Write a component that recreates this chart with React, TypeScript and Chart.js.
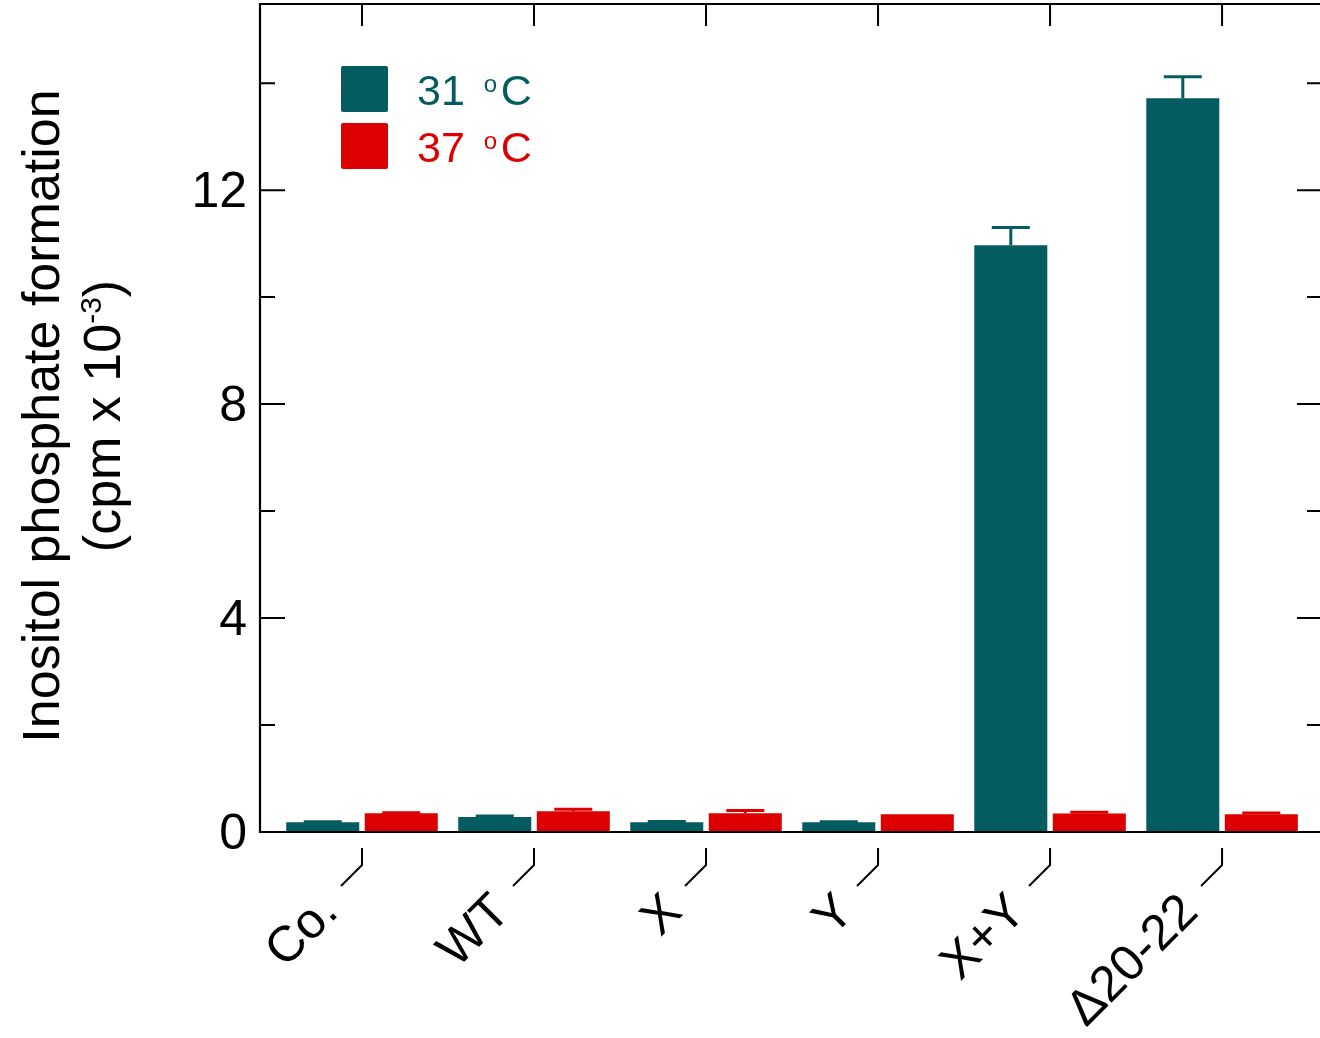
import React, { useEffect, useRef } from "react";
import { Chart, registerables } from "chart.js";

Chart.register(...registerables);

// ---- data ----
const categories = ["Co.", "WT", "X", "Y", "X+Y", "\u039420-22"];
const values31 = [0.18, 0.28, 0.18, 0.18, 10.97, 13.72];
const errors31 = [0.01, 0.02, 0.015, 0.01, 0.33, 0.4];
const values37 = [0.35, 0.39, 0.35, 0.33, 0.345, 0.33];
const errors37 = [0.01, 0.035, 0.05, 0.0, 0.025, 0.025];
const seriesNames = ["31", "37"];
const majorTicks = [0, 4, 8, 12];
const minorTicks = [2, 6, 10, 14];
const yMin = 0;
const yMax = 15.48;

const TEAL = "#035c60";
const RED = "#dd0000";
const FONT = '"Liberation Sans", Arial, Helvetica, sans-serif';

const CANVAS_W = 1340;
const CANVAS_H = 1038;

const framePlugin = {
  id: "framePlugin",
  afterDatasetsDraw(chart: any) {
    const ctx = chart.ctx as CanvasRenderingContext2D;
    const { left, right, top, bottom } = chart.chartArea;
    const xs = chart.scales.x;
    const ys = chart.scales.y;
    const errs = [errors31, errors37];
    const vals = [values31, values37];
    const cols = [TEAL, RED];

    // error bars (upper only)
    ctx.save();
    chart.data.datasets.forEach((_: any, di: number) => {
      const meta = chart.getDatasetMeta(di);
      meta.data.forEach((bar: any, i: number) => {
        const e = errs[di][i];
        if (!e) return;
        const yTop = ys.getPixelForValue(vals[di][i]);
        const yErr = ys.getPixelForValue(vals[di][i] + e);
        ctx.strokeStyle = cols[di];
        ctx.lineWidth = 3;
        ctx.beginPath();
        ctx.moveTo(bar.x, yTop);
        ctx.lineTo(bar.x, yErr);
        ctx.moveTo(bar.x - 19, yErr);
        ctx.lineTo(bar.x + 19, yErr);
        ctx.stroke();
      });
    });
    ctx.restore();

    // frame
    ctx.save();
    ctx.strokeStyle = "#000";
    ctx.lineWidth = 2.2;
    ctx.beginPath();
    ctx.rect(left, top, right - left, bottom - top);
    ctx.stroke();

    // y ticks inward on both sides
    ctx.lineWidth = 2;
    ctx.beginPath();
    majorTicks.forEach((v) => {
      const y = ys.getPixelForValue(v);
      ctx.moveTo(left, y);
      ctx.lineTo(left + 25, y);
      ctx.moveTo(right, y);
      ctx.lineTo(right - 25, y);
    });
    minorTicks.forEach((v) => {
      const y = ys.getPixelForValue(v);
      ctx.moveTo(left, y);
      ctx.lineTo(left + 15, y);
      ctx.moveTo(right, y);
      ctx.lineTo(right - 15, y);
    });
    // top ticks and bottom leader lines at categories
    categories.forEach((_, i) => {
      const x = xs.getPixelForValue(i);
      ctx.moveTo(x, top);
      ctx.lineTo(x, top + 22);
      ctx.moveTo(x, bottom + 16);
      ctx.lineTo(x, bottom + 33);
      ctx.lineTo(x - 21, bottom + 54);
    });
    ctx.stroke();

    // y tick labels
    ctx.fillStyle = "#000";
    ctx.font = `50px ${FONT}`;
    ctx.textAlign = "right";
    ctx.textBaseline = "alphabetic";
    majorTicks.forEach((v) => {
      const y = ys.getPixelForValue(v);
      ctx.fillText(String(v), left - 13, y + 17);
    });

    // x labels rotated
    ctx.font = `50px ${FONT}`;
    categories.forEach((c, i) => {
      const x = xs.getPixelForValue(i);
      ctx.save();
      ctx.translate(x - 22, bottom + 82);
      ctx.rotate(-Math.PI / 4);
      ctx.textAlign = "right";
      ctx.textBaseline = "alphabetic";
      ctx.fillText(c, 0, 0);
      ctx.restore();
    });

    // y title
    const cy = (top + bottom) / 2 - 2;
    ctx.save();
    ctx.translate(59, cy);
    ctx.rotate(-Math.PI / 2);
    ctx.textAlign = "center";
    ctx.font = `52px ${FONT}`;
    ctx.fillText("Inositol phosphate formation", 0, 0);
    ctx.restore();

    ctx.save();
    ctx.translate(120, cy);
    ctx.rotate(-Math.PI / 2);
    ctx.textAlign = "left";
    const p1 = "(cpm x 10";
    const p2 = "-3";
    const p3 = ")";
    ctx.font = `52px ${FONT}`;
    const w1 = ctx.measureText(p1).width;
    const w3 = ctx.measureText(p3).width;
    ctx.font = `30px ${FONT}`;
    const w2 = ctx.measureText(p2).width;
    let sx = -(w1 + w2 + w3) / 2;
    ctx.font = `52px ${FONT}`;
    ctx.fillText(p1, sx, 0);
    sx += w1;
    ctx.font = `30px ${FONT}`;
    ctx.fillText(p2, sx, -19);
    sx += w2;
    ctx.font = `52px ${FONT}`;
    ctx.fillText(p3, sx, 0);
    ctx.restore();

    // legend
    const legendCols = [TEAL, RED];
    const boxY = [66, 123];
    const baseY = [105, 162];
    seriesNames.forEach((n, i) => {
      ctx.fillStyle = legendCols[i];
      ctx.beginPath();
      (ctx as any).roundRect
        ? (ctx as any).roundRect(341, boxY[i], 47, 46, 2)
        : ctx.rect(341, boxY[i], 47, 46);
      ctx.fill();
      ctx.textAlign = "left";
      ctx.font = `43px ${FONT}`;
      const x0 = 417;
      ctx.fillText(n, x0, baseY[i]);
      const w = ctx.measureText(n).width;
      ctx.font = `24px ${FONT}`;
      ctx.fillText("o", x0 + w + 19, baseY[i] - 13);
      ctx.font = `43px ${FONT}`;
      ctx.fillText("C", x0 + w + 36, baseY[i]);
    });

    ctx.restore();
  },
};

export default function App() {
  const ref = useRef<HTMLCanvasElement | null>(null);

  useEffect(() => {
    if (!ref.current) return;
    const chart = new Chart(ref.current, {
      type: "bar",
      data: {
        datasets: [
          {
            label: "31 \u00b0C",
            data: values31.map((y, i) => ({ x: i, y })),
            backgroundColor: TEAL,
            borderWidth: 0,
          },
          {
            label: "37 \u00b0C",
            data: values37.map((y, i) => ({ x: i, y })),
            backgroundColor: RED,
            borderWidth: 0,
          },
        ],
      },
      options: {
        responsive: false,
        animation: false,
        devicePixelRatio: 1,
        layout: {
          padding: { left: 260, top: 4, right: CANVAS_W - 1322, bottom: CANVAS_H - 832 },
        },
        datasets: {
          bar: { categoryPercentage: 0.913, barPercentage: 0.93 },
        },
        plugins: {
          legend: { display: false },
          tooltip: { enabled: false },
        },
        scales: {
          x: {
            type: "linear",
            display: false,
            offset: false,
            grid: { offset: false },
            min: -0.593,
            max: 5.581,
            afterBuildTicks: (s: any) => {
              s.ticks = categories.map((_, i) => ({ value: i }));
            },
          },
          y: { display: false, min: yMin, max: yMax },
        },
      } as any,
      plugins: [framePlugin],
    } as any);
    return () => chart.destroy();
  }, []);

  return (
    <div
      style={{
        position: "fixed",
        left: 0,
        top: 0,
        width: 1320,
        height: 1038,
        overflow: "hidden",
        background: "#fff",
      }}
    >
      <canvas
        ref={ref}
        width={CANVAS_W}
        height={CANVAS_H}
        style={{ width: CANVAS_W, height: CANVAS_H, display: "block" }}
      />
    </div>
  );
}
